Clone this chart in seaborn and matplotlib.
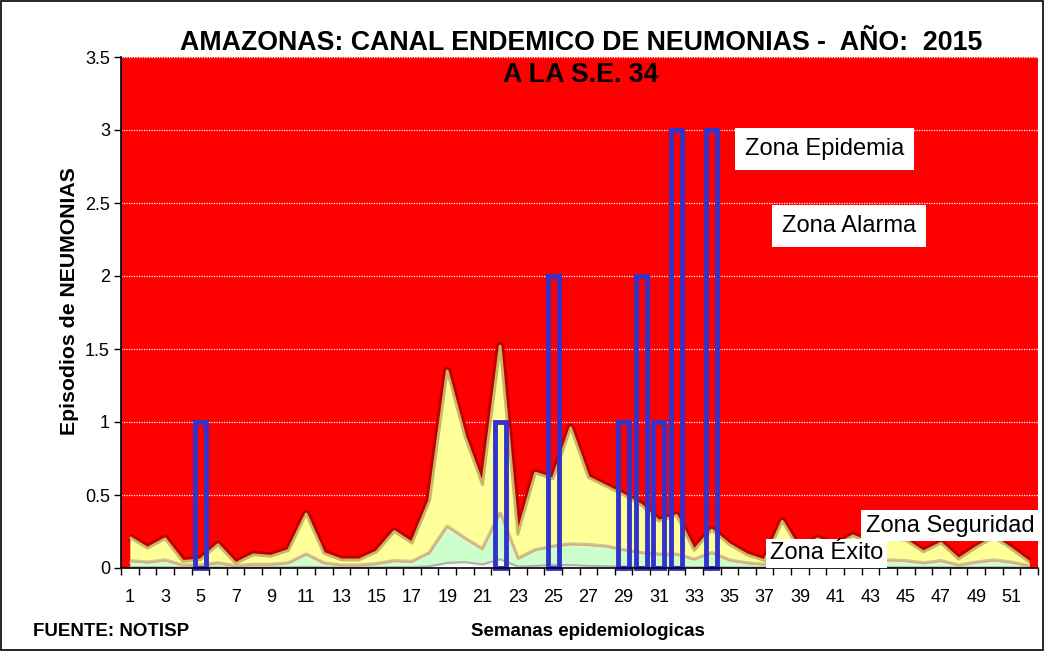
import numpy as np
import pandas as pd
import seaborn as sns
import matplotlib
matplotlib.use("Agg")
import matplotlib.pyplot as plt
from matplotlib.patches import Rectangle

# Semanas epidemiologicas 1..52
semanas = list(range(1, 53))

# Limites del canal endemico (valores acumulados)
q1_exito = [0.005, 0.005, 0.005, 0.003, 0.003, 0.005, 0.002, 0.004, 0.004, 0.005,
            0.008, 0.005, 0.003, 0.003, 0.004, 0.006, 0.006, 0.012, 0.035, 0.04,
            0.025, 0.06, 0.01, 0.015, 0.02, 0.02, 0.015, 0.012, 0.01, 0.008,
            0.008, 0.008, 0.005, 0.008, 0.005, 0.004, 0.003, 0.006, 0.004, 0.005,
            0.004, 0.005, 0.004, 0.005, 0.005, 0.004, 0.005, 0.003, 0.004, 0.005,
            0.004, 0.002]
q2_seguridad = [0.045, 0.035, 0.05, 0.015, 0.015, 0.03, 0.01, 0.02, 0.02, 0.03,
                0.09, 0.03, 0.015, 0.015, 0.025, 0.045, 0.04, 0.10, 0.28, 0.20,
                0.125, 0.37, 0.06, 0.12, 0.145, 0.16, 0.155, 0.145, 0.12, 0.10,
                0.09, 0.09, 0.055, 0.10, 0.05, 0.03, 0.02, 0.06, 0.03, 0.04,
                0.03, 0.05, 0.04, 0.05, 0.045, 0.03, 0.045, 0.015, 0.035, 0.05,
                0.035, 0.01]
q3_alarma = [0.21, 0.135, 0.20, 0.045, 0.055, 0.16, 0.03, 0.09, 0.08, 0.12,
             0.37, 0.10, 0.055, 0.055, 0.11, 0.25, 0.17, 0.46, 1.35, 0.90,
             0.57, 1.52, 0.23, 0.65, 0.61, 0.96, 0.62, 0.56, 0.50, 0.43,
             0.32, 0.36, 0.12, 0.26, 0.16, 0.09, 0.05, 0.32, 0.12, 0.20,
             0.15, 0.22, 0.17, 0.20, 0.19, 0.11, 0.17, 0.06, 0.14, 0.21,
             0.13, 0.04]

# Casos 2015 hasta la S.E. 34
semanas_2015 = list(range(1, 35))
casos_2015 = [0, 0, 0, 0, 1, 0, 0, 0, 0, 0, 0, 0, 0, 0, 0, 0, 0, 0, 0, 0,
              0, 1, 0, 0, 2, 0, 0, 0, 1, 2, 1, 3, 0, 3]

zonas = ["Zona Epidemia", "Zona Alarma", "Zona Seguridad", "Zona Éxito"]

sns.set_style("white")
plt.rcParams["font.family"] = ["Liberation Sans", "DejaVu Sans"]
plt.rcParams["text.color"] = "black"
plt.rcParams["xtick.color"] = "black"
plt.rcParams["ytick.color"] = "black"
plt.rcParams["lines.solid_capstyle"] = "butt"

fig = plt.figure(figsize=(10.44, 6.51), dpi=100)
ax = fig.add_axes([121 / 1044, 1 - 568 / 651, 917 / 1044, 511 / 651])
ax.set_facecolor("#ff0000")

canal = pd.DataFrame({"semana": semanas, "q1": q1_exito, "q2": q2_seguridad, "q3": q3_alarma})

# borde oscuro de la zona de alarma (sombra sobre el rojo)
sns.lineplot(data=canal, x="semana", y="q3", color="#c00000", lw=6, ax=ax, zorder=1.5)
ax.fill_between(canal["semana"], canal["q2"], canal["q3"], color="#ffff99", lw=0, zorder=2)
sns.lineplot(data=canal, x="semana", y="q3", color="#c8b866", lw=2, ax=ax, zorder=2.5)

sns.lineplot(data=canal, x="semana", y="q2", color="#c9c98f", lw=3.5, ax=ax, zorder=2.8)
ax.fill_between(canal["semana"], canal["q1"], canal["q2"], color="#ccffcc", lw=0, zorder=3)
sns.lineplot(data=canal, x="semana", y="q2", color="#e3a27e", lw=1, ax=ax, zorder=3.5)

ax.fill_between(canal["semana"], 0, canal["q1"], color="#f7f7f7", lw=0, zorder=4)
sns.lineplot(data=canal, x="semana", y="q1", color="#b0b0b0", lw=1.5, ax=ax, zorder=4.5)

# barras de casos 2015 (solo contorno)
casos = pd.DataFrame({"semana": semanas_2015, "casos": casos_2015})
casos = casos[casos["casos"] > 0]
sns.barplot(data=casos, x="semana", y="casos", native_scale=True, orient="x",
            fill=False, color="#3333cc", linewidth=3.5, width=0.62,
            errorbar=None, ax=ax, zorder=6, clip_on=False)
for p in ax.patches:
    p.set_edgecolor("#3333cc")
    p.set_facecolor("none")

ax.set_xlim(0.5, 52.5)
ax.set_ylim(0, 3.5)
ax.set_yticks(np.arange(0, 3.51, 0.5))
ax.set_yticklabels(["0", "0.5", "1", "1.5", "2", "2.5", "3", "3.5"])
ax.set_xticks(range(1, 53, 2))
ax.set_xticklabels([str(s) for s in range(1, 53, 2)])
ax.set_xticks(np.arange(0.5, 53, 1), minor=True)
ax.tick_params(axis="y", length=5, width=1, color="black", labelsize=13, pad=3, left=True)
ax.tick_params(axis="x", which="major", length=0, labelsize=13, pad=15)
ax.tick_params(axis="x", which="minor", length=5, width=1, color="black", bottom=True)
ax.yaxis.grid(True, color="white", linestyle=(0, (1, 1)), lw=0.9)
ax.set_axisbelow(True)
ax.set_xlabel("")
ax.set_ylabel("")
for s in ["top", "right"]:
    ax.spines[s].set_visible(False)
for s in ["left", "bottom"]:
    ax.spines[s].set_color("black")
    ax.spines[s].set_linewidth(1.2)
    ax.spines[s].set_zorder(7)

# etiquetas de las zonas
caja = dict(facecolor="white", edgecolor="none", boxstyle="square,pad=0.42")
ax.text(40.4, 2.87, zonas[0], fontsize=17, ha="center", va="center", bbox=caja, zorder=10)
ax.text(41.8, 2.345, zonas[1], fontsize=17, ha="center", va="center", bbox=caja, zorder=10)
ax.text(40.5, 0.10, zonas[3], fontsize=17, ha="center", va="center",
        bbox=dict(facecolor="white", edgecolor="none", boxstyle="square,pad=0.15"), zorder=10)
ax.text(47.5, 0.29, zonas[2], fontsize=17, ha="center", va="center",
        bbox=dict(facecolor="white", edgecolor="none", boxstyle="square,pad=0.2"), zorder=11)

fig.text(0.5565, 1 - 43 / 651, "AMAZONAS: CANAL ENDEMICO DE NEUMONIAS -  AÑO:  2015",
         fontsize=19.3, fontweight="bold", ha="center", va="center")
fig.text(0.5565, 1 - 75 / 651, "A LA S.E. 34", fontsize=19.3, fontweight="bold",
         ha="center", va="center")
fig.text(70 / 1044, 1 - 301 / 651, "Episodios de NEUMONIAS", fontsize=15.3,
         fontweight="bold", rotation=90, ha="center", va="center")
fig.text(588 / 1044, 1 - 632 / 651, "Semanas epidemiologicas", fontsize=13.5,
         fontweight="bold", ha="center", va="center")
fig.text(33 / 1044, 1 - 631 / 651, "FUENTE: NOTISP", fontsize=13.5,
         fontweight="bold", ha="left", va="center")

fig.patches.append(Rectangle((0.001, 0.001), 0.998, 0.998, transform=fig.transFigure,
                             fill=False, edgecolor="black", lw=1.2))

fig.savefig("out.png", dpi=100)
